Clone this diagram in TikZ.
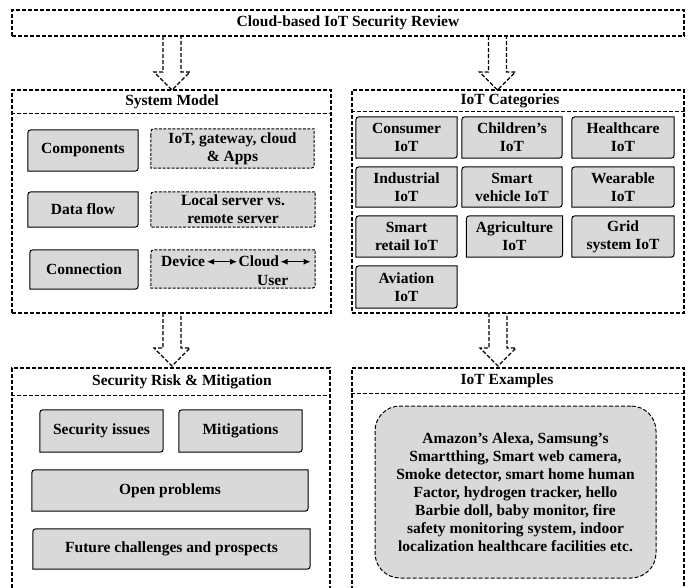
\documentclass[tikz,border=0pt]{standalone}
\usepackage{fontspec}
\setmainfont{Liberation Serif}
\usetikzlibrary{calc,backgrounds,arrows.meta}
\newcommand\bfnt{\fontsize{15.5}{18}\selectfont\bfseries}
\tikzset{
  dsh/.style={dash pattern=on 4pt off 2pt, line width=1.1pt},
  outerbox/.style={draw, dsh, inner sep=0pt},
  txt/.style={font=\bfnt, align=center, inner sep=0pt},
  cell/.style={txt},
  boxline/.style={draw=black, fill=gray!30, line width=1pt},
  dboxline/.style={boxline, dash pattern=on 3pt off 1.5pt},
}
\newcommand\cbox[2][]{\path[boxline,#1] ([yshift=-7pt]#2.north west) .. controls (#2.north west) .. ([xshift=7pt]#2.north west) -- (#2.north east) -- ([yshift=7pt]#2.south east) .. controls (#2.south east) .. ([xshift=-7pt]#2.south east) -- (#2.south west) -- cycle;}
\newcommand\blockarr[2]{\draw[dsh, line join=miter] ($(#1)+(-9,0)$) -- ($(#2)+(-9,-18)$) -- ($(#2)+(-18,-18)$) -- (#2) -- ($(#2)+(18,-18)$) -- ($(#2)+(9,-18)$) -- ($(#1)+(9,0)$);}
\newcommand\dblarr[1]{\tikz[baseline=-0.6ex]\draw[solid, line width=1pt, {Latex[length=7pt,width=6pt]}-{Latex[length=7pt,width=6pt]}] (0pt,0pt) -- (#1,0pt);}
\begin{document}
\begin{tikzpicture}[x=1pt,y=-1pt]
\useasboundingbox (0,0) rectangle (699,587);
\clip (0,0) rectangle (699,587);
% title
\node[outerbox, font=\bfnt, minimum width=672pt, minimum height=26pt] (title) at (348,23) {Cloud-based IoT Security Review};
% outer boxes
\node[outerbox, minimum width=319pt, minimum height=223pt] (sys) at (171.5,201.5) {};
\node[outerbox, minimum width=332pt, minimum height=223pt] (cat) at (518,201.5) {};
\node[outerbox, minimum width=318pt, minimum height=240pt] (sec) at (171,488) {};
\node[outerbox, minimum width=332pt, minimum height=240pt] (ex) at (518,488) {};
\draw[dsh] ([yshift=-24pt]sys.north west) -- ([yshift=-24pt]sys.north east);
\draw[dsh] ([yshift=-22pt]cat.north west) -- ([yshift=-22pt]cat.north east);
\draw[dsh] ([yshift=-28pt]sec.north west) -- ([yshift=-28pt]sec.north east);
\draw[dsh] ([yshift=-26pt]ex.north west) -- ([yshift=-26pt]ex.north east);
\node[txt] (sysH) at (172,102) {System Model};
\node[txt] (catH) at (510,101) {IoT Categories};
\node[txt] (secH) at (182,382) {Security Risk \& Mitigation};
\node[txt] (exH) at (507,381) {IoT Examples};
% arrows
\coordinate (a1s) at (172,36); \coordinate (a1e) at (172,90);
\coordinate (a2s) at (497.5,36); \coordinate (a2e) at (497.5,90);
\coordinate (a3s) at (172,313); \coordinate (a3e) at (172,366);
\coordinate (a4s) at (498,313); \coordinate (a4e) at (498,366);
\blockarr{a1s}{a1e}
\blockarr{a2s}{a2e}
\blockarr{a3s}{a3e}
\blockarr{a4s}{a4e}
% system model
\node[cell, minimum width=110pt, minimum height=41pt] (comp) at (83,150.5) {Components};
\node[cell, minimum width=163pt, minimum height=39pt] (compD) at (232.5,148.5) {IoT, gateway, cloud\\\& Apps};
\node[cell, minimum width=110pt, minimum height=35pt] (flow) at (83,209.5) {Data flow};
\node[cell, minimum width=164pt, minimum height=35pt] (flowD) at (233,209.5) {Local server vs.\\remote server};
\node[cell, minimum width=108pt, minimum height=39pt] (conn) at (84,269.5) {Connection};
\node[cell, minimum width=164pt, minimum height=38pt] (connD) at (233,269) {};
\node[txt, anchor=base west] (connT) at (161,266) {Device\kern1.5pt\dblarr{30pt}\kern1pt Cloud\kern1pt\dblarr{30pt}};
\node[txt, anchor=base west] (userT) at (257,285) {User};
% categories
\node[cell, minimum width=101pt, minimum height=41pt] (c11) at (406.5,137.5) {Consumer\\IoT};
\node[cell, minimum width=100pt, minimum height=41pt] (c12) at (512,137.5) {Children’s\\IoT};
\node[cell, minimum width=102pt, minimum height=41pt] (c13) at (623,137.5) {Healthcare\\IoT};
\node[cell, minimum width=101pt, minimum height=40pt] (c21) at (406.5,187) {Industrial\\IoT};
\node[cell, minimum width=100pt, minimum height=40pt] (c22) at (512,187) {Smart\\vehicle IoT};
\node[cell, minimum width=102pt, minimum height=40pt] (c23) at (623,187) {Wearable\\IoT};
\node[cell, minimum width=101pt, minimum height=41pt] (c31) at (406.5,236.5) {Smart\\retail IoT};
\node[cell, minimum width=96pt, minimum height=41pt] (c32) at (514.5,236.5) {Agriculture\\IoT};
\node[cell, minimum width=102pt, minimum height=41pt] (c33) at (623,236.5) {Grid\\system IoT};
\node[cell, minimum width=101pt, minimum height=42pt] (c41) at (406.5,287) {Aviation\\IoT};
% security
\node[cell, minimum width=123pt, minimum height=42pt] (si) at (101.5,431) {Security issues};
\node[cell, minimum width=123pt, minimum height=42pt] (mit) at (240.5,431) {Mitigations};
\node[cell, minimum width=276pt, minimum height=41pt] (op) at (170,490.5) {Open problems};
\node[cell, minimum width=277pt, minimum height=40pt] (fut) at (171.5,549) {Future challenges and prospects};
% examples
\node[txt, draw, dsh, line width=1pt, fill=gray!30, rounded corners=25pt, minimum width=281pt, minimum height=172pt] (exbox) at (515.5,492) {Amazon’s Alexa, Samsung’s\\Smartthing, Smart web camera,\\Smoke detector, smart home human\\Factor, hydrogen tracker, hello\\Barbie doll, baby monitor, fire\\safety monitoring system, indoor\\localization healthcare facilities etc.};
\begin{scope}[on background layer]
\foreach \n in {comp,flow,conn,c11,c12,c13,c21,c22,c23,c31,c32,c33,c41,si,mit,op,fut}{\cbox{\n}}
\foreach \n in {compD,flowD,connD}{\cbox[dboxline]{\n}}
\end{scope}
\end{tikzpicture}
\end{document}
